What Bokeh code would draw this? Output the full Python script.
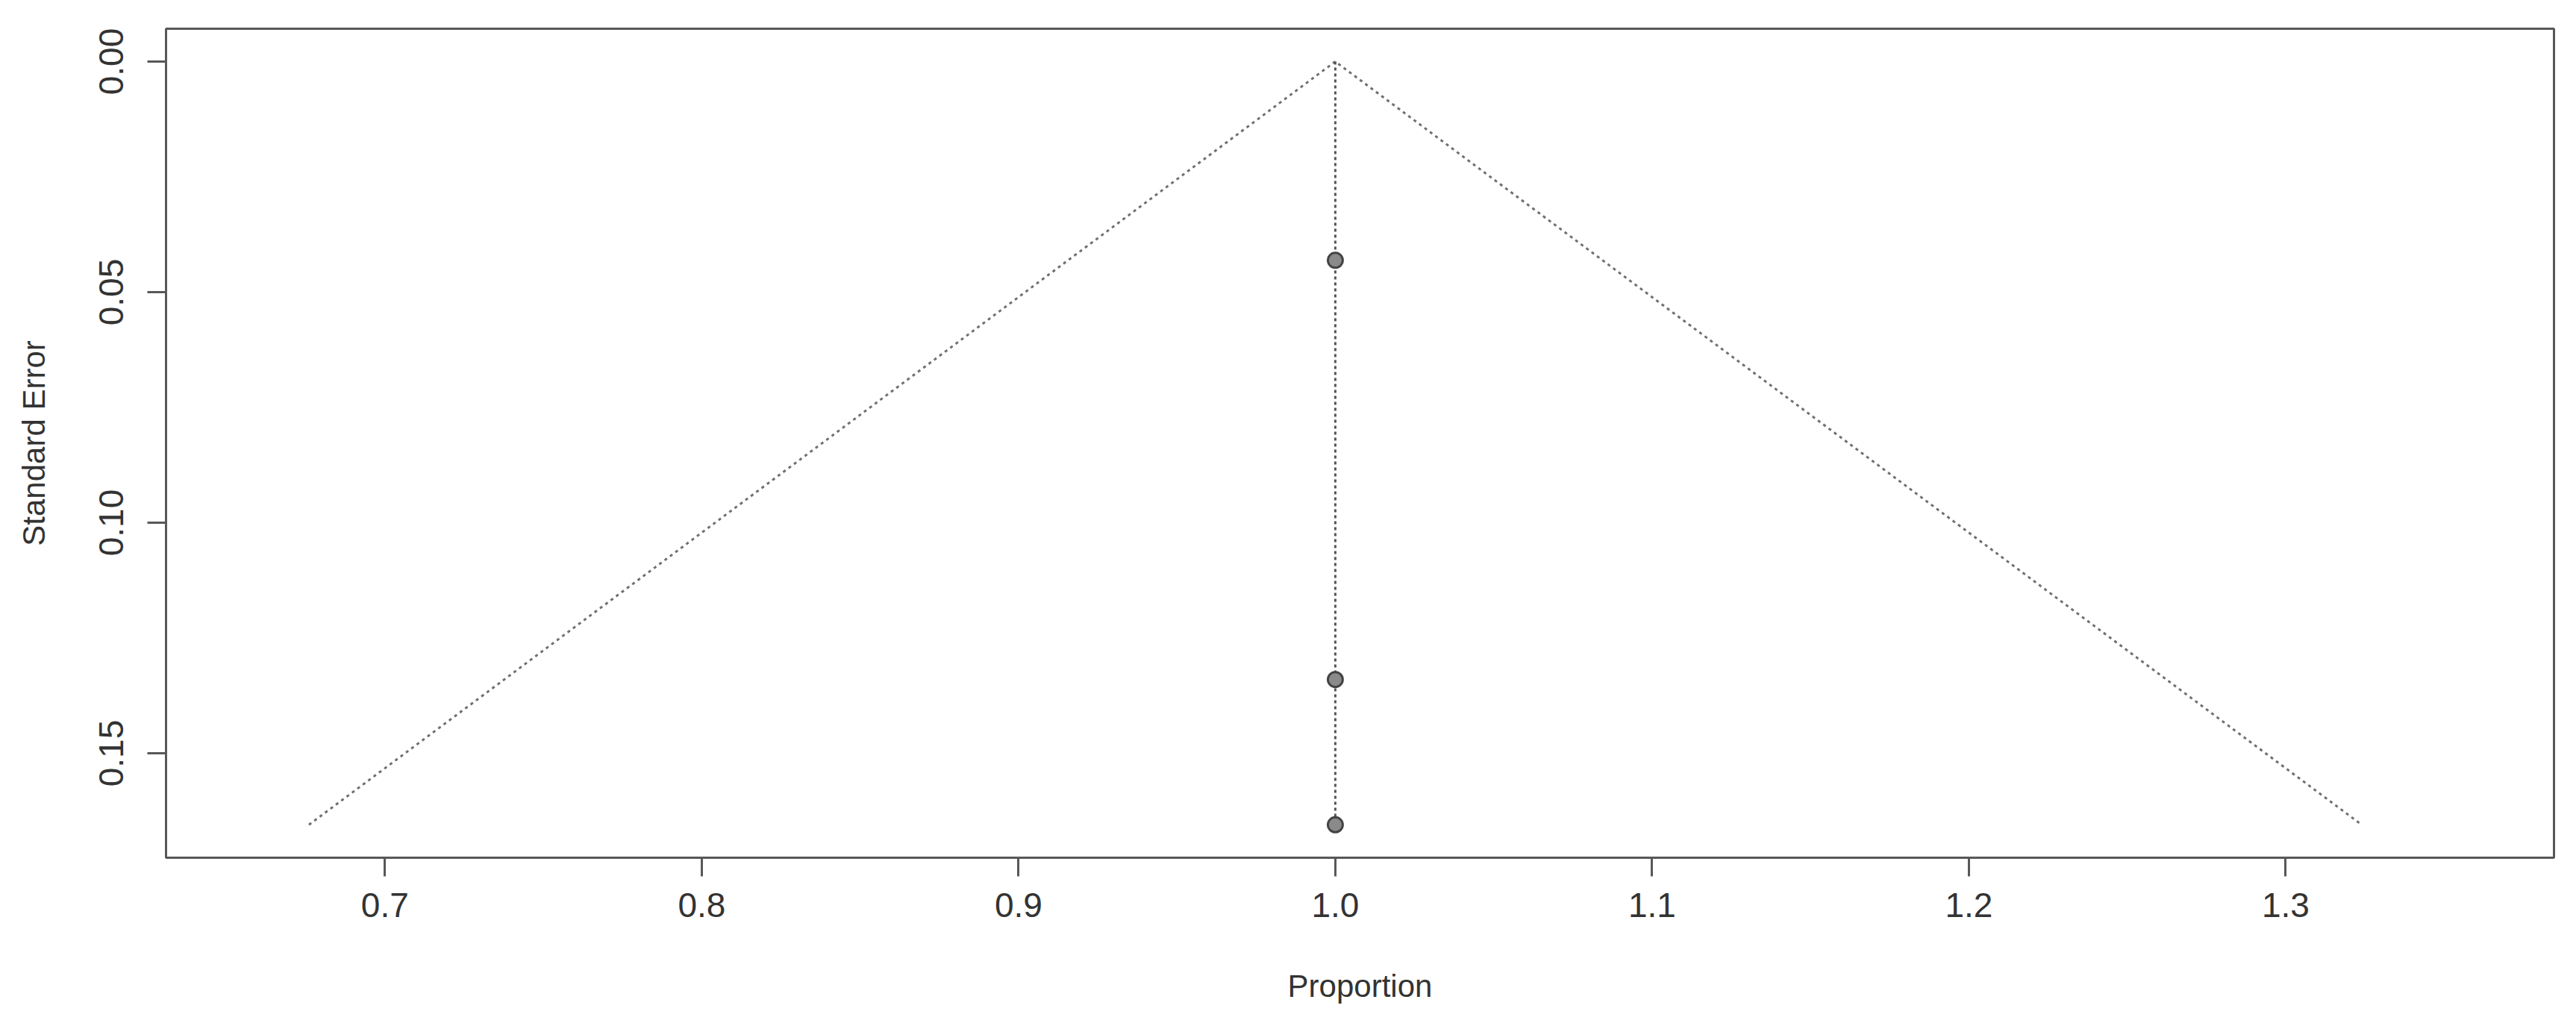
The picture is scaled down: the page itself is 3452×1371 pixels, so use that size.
from bokeh.plotting import figure
from bokeh.models import Range1d, FixedTicker, CustomJSTickFormatter
from bokeh.embed import file_html
from bokeh.resources import INLINE

# --- data ---
study_prop = [1.0, 1.0, 1.0]
study_se = [0.0431, 0.1340, 0.1655]
funnel_x = [0.676, 1.0, 1.324]
funnel_y = [0.1655, 0.0, 0.1655]
center_x = [1.0, 1.0]
center_y = [0.0, 0.1655]
x_ticks = [0.7, 0.8, 0.9, 1.0, 1.1, 1.2, 1.3]
y_ticks = [0.0, 0.05, 0.10, 0.15]

FONT = "Liberation Sans"
AX = "#585858"

p = figure(width=3444, height=1363, output_backend="svg", toolbar_location=None,
           x_range=Range1d(0.6309, 1.3847), y_range=Range1d(0.17265, -0.00712),
           min_border_left=222, min_border_top=38, min_border_right=22, min_border_bottom=214)
p.grid.visible = False
p.background_fill_color = "white"
p.border_fill_color = "white"
p.outline_line_color = AX
p.outline_line_width = 3

p.line(funnel_x, funnel_y, line_color="#707070", line_width=3, line_dash="4 5")
p.line(center_x, center_y, line_color="#555555", line_width=3, line_dash="4 4")
p.scatter(study_prop, study_se, size=20, fill_color="#8a8a8a", line_color="#444444", line_width=3)

for ax in (p.xaxis[0], p.yaxis[0]):
    ax.axis_line_color = None
    ax.major_tick_line_color = AX
    ax.major_tick_line_width = 3
    ax.major_tick_out = 25
    ax.major_tick_in = 0
    ax.minor_tick_line_color = None
    ax.major_label_text_font = FONT
    ax.major_label_text_font_size = "46px"
    ax.major_label_text_color = "#333333"
    ax.axis_label_text_font = FONT
    ax.axis_label_text_font_size = "42px"
    ax.axis_label_text_font_style = "normal"
    ax.axis_label_text_color = "#333333"

p.xaxis.ticker = FixedTicker(ticks=x_ticks)
p.xaxis.formatter = CustomJSTickFormatter(code="return tick.toFixed(1);")
p.xaxis.axis_label = "Proportion"
p.xaxis.major_label_standoff = 22
p.xaxis.axis_label_standoff = 66

p.yaxis.ticker = FixedTicker(ticks=y_ticks)
p.yaxis.formatter = CustomJSTickFormatter(code="return tick.toFixed(2);")
p.yaxis.axis_label = "Standard Error"
p.yaxis.major_label_orientation = "vertical"
p.yaxis.major_label_standoff = 32
p.yaxis.axis_label_standoff = 62

open("out.html", "w").write(file_html(p, INLINE))
